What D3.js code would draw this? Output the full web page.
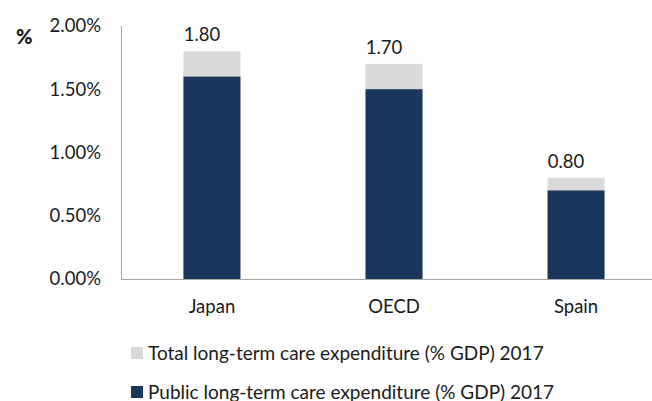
<!DOCTYPE html>
<html>
<head>
<meta charset="utf-8">
<script src="https://cdn.jsdelivr.net/npm/d3@7"></script>
<style>
  body { margin: 0; background: #fff; }
  svg { display: block; font-family: Lato, "Open Sans", sans-serif; }
</style>
</head>
<body>
<svg id="chart" width="652" height="401"></svg>
<script>
var countries = ["Japan", "OECD", "Spain"];
var totalSpend = [1.80, 1.70, 0.80];
var publicSpend = [1.60, 1.50, 0.70];
var yTicks = [0, 0.5, 1.0, 1.5, 2.0];
var legendLabels = [
    "Total long-term care expenditure (% GDP) 2017",
    "Public long-term care expenditure (% GDP) 2017"
];

var svg = d3.select("#chart");
var navy = "#1b365d", grey = "#d9d9d9";

// Set up scales
var xScale = d3.scaleBand().domain(countries).range([121, 667]).paddingInner(0.687).paddingOuter(0.343);
var yScale = d3.scaleLinear().domain([0, 2]).range([279, 26]);

// y-axis line and labels
svg.append("line")
    .attr("x1", 121.5).attr("x2", 121.5)
    .attr("y1", yScale(2)).attr("y2", yScale(0))
    .attr("stroke", "#a6a6a6");

svg.selectAll(".ytick")
    .data(yTicks)
    .enter().append("text")
    .attr("class", "ytick")
    .attr("x", 101)
    .attr("y", function(d) { return yScale(d); })
    .attr("dy", "0.35em")
    .attr("text-anchor", "end")
    .attr("font-size", 18.5)
    .attr("fill", "#1a1a1a")
    .text(function(d) { return d3.format(".2f")(d) + "%"; });

svg.append("text")
    .attr("x", 16).attr("y", 44)
    .attr("font-size", 20).attr("font-weight", "900")
    .attr("fill", "#1a1a1a")
    .text("%");

// Bars: total behind, public in front
svg.selectAll(".total")
    .data(countries)
    .enter().append("rect")
    .attr("class", "total")
    .attr("x", function(d) { return xScale(d); })
    .attr("width", xScale.bandwidth())
    .attr("y", function(d, i) { return yScale(totalSpend[i]); })
    .attr("height", function(d, i) { return yScale(0) - yScale(totalSpend[i]); })
    .attr("fill", grey);

svg.selectAll(".public")
    .data(countries)
    .enter().append("rect")
    .attr("class", "public")
    .attr("x", function(d) { return xScale(d); })
    .attr("width", xScale.bandwidth())
    .attr("y", function(d, i) { return yScale(publicSpend[i]); })
    .attr("height", function(d, i) { return yScale(0) - yScale(publicSpend[i]); })
    .attr("fill", navy);

// Value labels
svg.selectAll(".val")
    .data(countries)
    .enter().append("text")
    .attr("class", "val")
    .attr("x", function(d) { return xScale(d) + xScale.bandwidth() / 2 - 10; })
    .attr("y", function(d, i) { return yScale(totalSpend[i]) - 10; })
    .attr("text-anchor", "middle")
    .attr("font-size", 18.5)
    .attr("fill", "#1a1a1a")
    .text(function(d, i) { return d3.format(".2f")(totalSpend[i]); });

// x-axis
svg.append("line")
    .attr("x1", 121).attr("x2", 652)
    .attr("y1", 279.5).attr("y2", 279.5)
    .attr("stroke", "#a6a6a6");

svg.selectAll(".xlab")
    .data(countries)
    .enter().append("text")
    .attr("class", "xlab")
    .attr("x", function(d) { return xScale(d) + xScale.bandwidth() / 2; })
    .attr("y", 313)
    .attr("text-anchor", "middle")
    .attr("font-size", 18.5)
    .attr("fill", "#1a1a1a")
    .text(function(d) { return d; });

// Legend
var legend = svg.selectAll(".legend")
    .data(legendLabels)
    .enter().append("g")
    .attr("class", "legend")
    .attr("transform", function(d, i) { return "translate(131," + (347 + i * 39) + ")"; });

legend.append("rect")
    .attr("width", 12).attr("height", 12)
    .attr("fill", function(d, i) { return i === 0 ? grey : navy; });

legend.append("text")
    .attr("x", 17).attr("y", 12.5)
    .attr("font-size", 19)
    .attr("fill", "#1a1a1a")
    .text(function(d) { return d; });
</script>
</body>
</html>
